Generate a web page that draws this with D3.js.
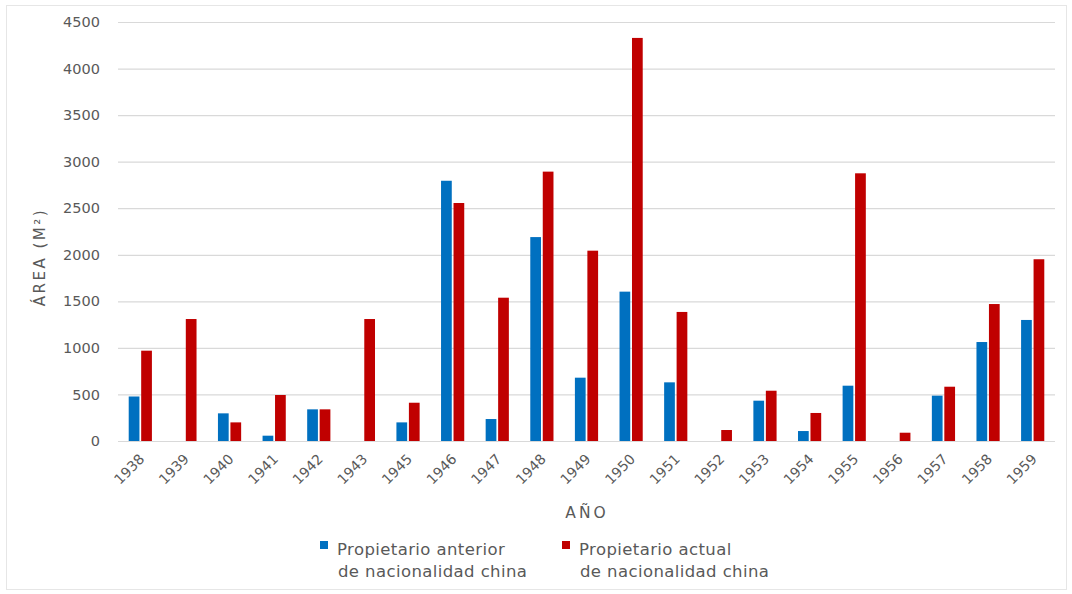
<!DOCTYPE html>
<html>
<head>
<meta charset="utf-8">
<script src="https://cdn.jsdelivr.net/npm/d3@7"></script>
<style>
  html, body { margin: 0; padding: 0; background: #fff; }
  svg { display: block; font-family: "DejaVu Sans", "Open Sans", sans-serif; }
</style>
</head>
<body>
<svg id="chart" width="1072" height="594"></svg>
<script>
// Años y superficies (m²) por tipo de propietario
const years = ["1938","1939","1940","1941","1942","1943","1945","1946","1947","1948","1949",
               "1950","1951","1952","1953","1954","1955","1956","1957","1958","1959"];
const anterior = [478, 0, 297, 57, 340, 0, 200, 2795, 236, 2190, 680,
                  1604, 630, 0, 433, 107, 594, 0, 487, 1063, 1300];
const actual   = [970, 1310, 200, 494, 340, 1310, 411, 2556, 1539, 2893, 2044,
                  4329, 1386, 118, 540, 301, 2875, 89, 583, 1471, 1952];
const yTicks = [0, 500, 1000, 1500, 2000, 2500, 3000, 3500, 4000, 4500];
const seriesNames = [["Propietario anterior", "de nacionalidad china"],
                     ["Propietario actual", "de nacionalidad china"]];
const seriesColors = ["#0070C0", "#C00000"];

const svg = d3.select("#chart");
const W = 1072, H = 594;
const m = { left: 118, right: 17, top: 22, bottom: 153 };
const FONT = '"DejaVu Sans", "Open Sans", sans-serif';

// soft frame around the chart
svg.append("rect").attr("x", 6.5).attr("y", 5.5).attr("width", W - 12).attr("height", H - 10)
  .attr("fill", "#fff").attr("stroke", "#e6e6e6");

const x = d3.scaleBand().domain(years).range([m.left, W - m.right]).paddingInner(0.48).paddingOuter(0.24);
const xs = d3.scaleBand().domain([0, 1]).range([0, x.bandwidth()]).paddingInner(0.14);
const y = d3.scaleLinear().domain([0, 4500]).range([H - m.bottom, m.top]);

// horizontal gridlines + y labels
const yAxis = d3.axisLeft(y).tickValues(yTicks).tickFormat(d3.format("d"))
  .tickSize(-(W - m.right - m.left)).tickPadding(18);
const gy = svg.append("g").attr("transform", `translate(${m.left},0)`).call(yAxis)
  .attr("font-family", FONT);
gy.select(".domain").remove();
gy.selectAll(".tick line").attr("stroke", "#d9d9d9").attr("stroke-width", 1.2);
gy.selectAll(".tick text").attr("fill", "#595959").style("font-size", "14.5px");

// bars
const data = years.map((yr, i) => ({ yr, vals: [anterior[i], actual[i]] }));
const groups = svg.append("g").selectAll("g").data(data).join("g")
  .attr("transform", d => `translate(${x(d.yr)},0)`);
groups.selectAll("rect").data(d => d.vals.map((v, k) => ({ v, k })).filter(e => e.v > 0)).join("rect")
  .attr("x", e => xs(e.k))
  .attr("width", xs.bandwidth())
  .attr("y", e => y(e.v))
  .attr("height", e => y(0) - y(e.v))
  .attr("fill", e => seriesColors[e.k]);

// x axis labels (rotated)
const xAxis = d3.axisBottom(x).tickSize(0).tickPadding(0);
const gx = svg.append("g").attr("transform", `translate(0,${y(0)})`).call(xAxis)
  .attr("font-family", FONT);
gx.select(".domain").remove();
gx.selectAll(".tick text")
  .attr("fill", "#595959").style("font-size", "14px")
  .attr("text-anchor", "end")
  .attr("dy", "0")
  .attr("transform", "translate(5,19) rotate(-45)");

// axis titles
svg.append("text").attr("transform", `translate(45,257) rotate(-90)`)
  .attr("text-anchor", "middle").attr("fill", "#595959")
  .style("font-size", "15px").style("letter-spacing", "2.5px")
  .text("ÁREA (M²)");
svg.append("text").attr("x", 587).attr("y", 518)
  .attr("text-anchor", "middle").attr("fill", "#595959")
  .style("font-size", "15.5px").style("letter-spacing", "3px")
  .text("AÑO");

// legend
const legendX = [320, 562];
seriesNames.forEach((lines, k) => {
  const g = svg.append("g").attr("transform", `translate(${legendX[k]},0)`);
  g.append("rect").attr("x", 0).attr("y", 541).attr("width", 8).attr("height", 8).attr("fill", seriesColors[k]);
  lines.forEach((t, j) => {
    g.append("text").attr("x", 17 + (j ? 1 : 0)).attr("y", 555 + j * 22)
      .attr("fill", "#595959").style("font-size", "16.5px").style("letter-spacing", "0.4px").text(t);
  });
});
</script>
</body>
</html>
